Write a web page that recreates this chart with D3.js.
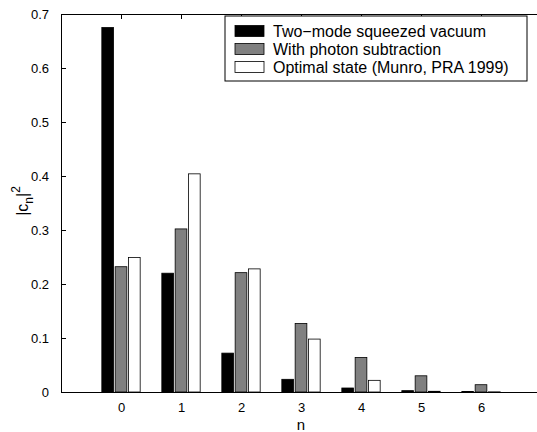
<!DOCTYPE html>
<html>
<head>
<meta charset="utf-8">
<script src="https://cdn.jsdelivr.net/npm/d3@7"></script>
<style>
  body { margin: 0; background: #fff; }
  text { font-family: "Liberation Sans", Arial, Helvetica, sans-serif; }
</style>
</head>
<body>
<div id="chart-area"></div>
<script>
// data
var ns = [0, 1, 2, 3, 4, 5, 6]
var squeezed = [0.675, 0.220, 0.072, 0.0235, 0.0074, 0.0025, 0.0008]
var subtracted = [0.232, 0.302, 0.221, 0.127, 0.064, 0.030, 0.0135]
var optimal = [0.249, 0.404, 0.228, 0.098, 0.0216, 0.0013, 0.0003]
var seriesNames = ["Two\u2212mode squeezed vacuum", "With photon subtraction", "Optimal state (Munro, PRA 1999)"]
var yTicks = [0, 0.1, 0.2, 0.3, 0.4, 0.5, 0.6, 0.7]

var W = 537, H = 432
var svg = d3.select("#chart-area").append("svg")
  .attr("width", W).attr("height", H)

var x = d3.scaleLinear().domain([-1, 7]).range([61, 541])
var y = d3.scaleLinear().domain([0, 0.7]).range([392, 14])

// axes first, bars drawn over the inner ticks
var leftAxis = d3.axisLeft(y).tickValues(yTicks).tickSizeInner(-5).tickSizeOuter(0)
  .tickPadding(12).tickFormat(d => d === 0 ? "0" : d3.format(".1f")(d))
svg.append("g").attr("transform", "translate(61,0)").call(leftAxis)

var bottomAxis = d3.axisBottom(x).tickValues(ns).tickSizeInner(-5).tickSizeOuter(0).tickPadding(11)
svg.append("g").attr("transform", "translate(0,392)").call(bottomAxis)

var topAxis = d3.axisTop(x).tickValues(ns).tickSizeInner(-5).tickSizeOuter(0).tickFormat("")
svg.append("g").attr("transform", "translate(0,14)").call(topAxis)

svg.selectAll(".domain").attr("stroke", "#000").attr("stroke-width", 1)
svg.selectAll(".tick line").attr("stroke", "#000")
svg.selectAll(".tick text").attr("font-size", 13).attr("fill", "#000")
  .style("font-family", "'Liberation Sans', Arial, sans-serif")

var series = [
  {name: seriesNames[0], values: squeezed, fill: "#000000", off: -0.222},
  {name: seriesNames[1], values: subtracted, fill: "#808080", off: 0},
  {name: seriesNames[2], values: optimal, fill: "#ffffff", off: 0.222}
]
var bw = 0.195

series.forEach(function(s) {
  svg.append("g").selectAll("rect")
    .data(s.values)
    .enter().append("rect")
      .attr("x", (d, i) => x(ns[i] + s.off - bw / 2))
      .attr("y", d => y(d))
      .attr("width", x(bw) - x(0))
      .attr("height", d => y(0) - y(d))
      .attr("fill", s.fill)
      .attr("stroke", "#000")
      .attr("stroke-width", 0.8)
})

svg.append("text")
  .attr("x", 301).attr("y", 430)
  .attr("text-anchor", "middle").attr("font-size", 15)
  .text("n")

var yl = svg.append("text")
  .attr("transform", "translate(27.5,201) rotate(-90)")
  .attr("text-anchor", "middle").attr("font-size", 16)
yl.append("tspan").text("|c")
yl.append("tspan").attr("font-size", 12).attr("dy", 5).text("n")
yl.append("tspan").attr("dy", -5).text("|")
yl.append("tspan").attr("font-size", 12).attr("dy", -8).text("2")

// legend
var lg = svg.append("g").attr("transform", "translate(225,16)")
lg.append("rect").attr("width", 302).attr("height", 65)
  .attr("fill", "#fff").attr("stroke", "#000").attr("stroke-width", 1)
series.forEach(function(s, i) {
  var cy = 15 + i * 18
  lg.append("rect").attr("x", 10).attr("y", cy - 5.5).attr("width", 29).attr("height", 11)
    .attr("fill", s.fill).attr("stroke", "#000").attr("stroke-width", 0.8)
  lg.append("text").attr("x", 48).attr("y", cy + 5.8).attr("font-size", 16).text(s.name)
})
</script>
</body>
</html>
